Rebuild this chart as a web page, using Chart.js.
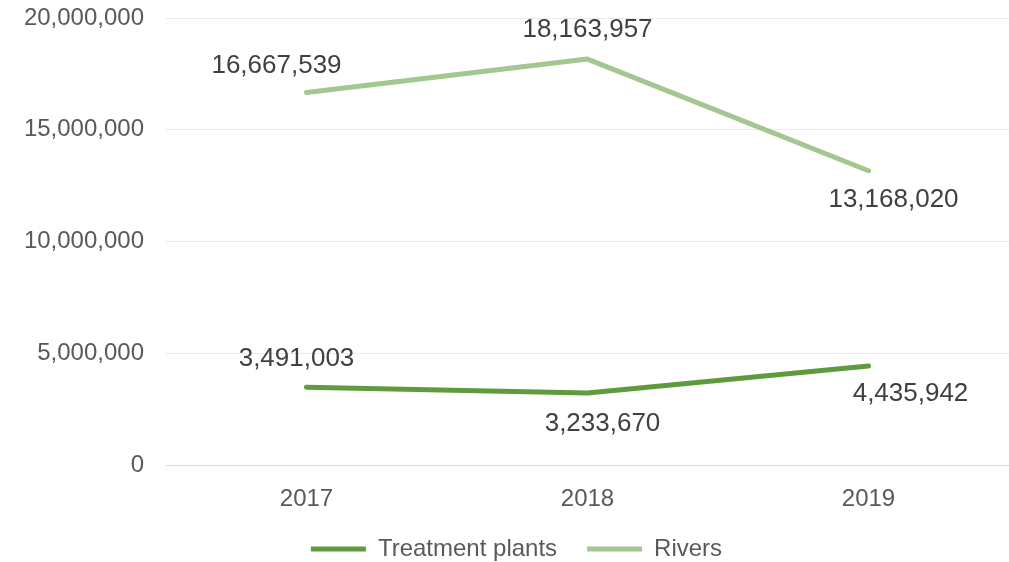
<!DOCTYPE html>
<html>
<head>
<meta charset="utf-8">
<script src="https://cdn.jsdelivr.net/npm/chart.js@4/dist/chart.umd.min.js"></script>
<style>
html,body{margin:0;padding:0;background:#fff;}
#wrap{width:1009px;height:562px;}
</style>
</head>
<body>
<div id="wrap"><canvas id="c" width="1009" height="562"></canvas></div>
<script>
const categories = ['2017', '2018', '2019'];
const treatmentPlants = [3491003, 3233670, 4435942];
const rivers = [16667539, 18163957, 13168020];
const yTicks = [0, 5000000, 10000000, 15000000, 20000000];
const seriesNames = ['Treatment plants', 'Rivers'];

// label offsets relative to each point (pixels)
const labelOffsets = [
  [[-10, -28], [15, 31], [42, 28]],
  [[-30, -27], [0, -29], [25, 29]]
];

const FONT = '"Liberation Sans", Arial, sans-serif';
const fmt = v => v.toLocaleString('en-US');

const dataLabels = {
  id: 'dataLabels',
  afterDatasetsDraw(chart) {
    const ctx = chart.ctx;
    ctx.save();
    ctx.font = '26px ' + FONT;
    ctx.fillStyle = '#404040';
    ctx.textAlign = 'center';
    ctx.textBaseline = 'middle';
    chart.data.datasets.forEach((ds, i) => {
      const meta = chart.getDatasetMeta(i);
      meta.data.forEach((pt, j) => {
        const off = labelOffsets[i][j];
        ctx.fillText(fmt(ds.data[j]), pt.x + off[0], pt.y + off[1]);
      });
    });
    ctx.restore();
  }
};

new Chart(document.getElementById('c'), {
  type: 'line',
  data: {
    labels: categories,
    datasets: [
      {
        label: seriesNames[0],
        data: treatmentPlants,
        borderColor: '#5f9b3e',
        backgroundColor: '#5f9b3e',
        borderWidth: 5,
        borderCapStyle: 'round',
        borderJoinStyle: 'round',
        pointRadius: 0,
        tension: 0
      },
      {
        label: seriesNames[1],
        data: rivers,
        borderColor: '#a2c78f',
        backgroundColor: '#a2c78f',
        borderWidth: 5,
        borderCapStyle: 'round',
        borderJoinStyle: 'round',
        pointRadius: 0,
        tension: 0
      }
    ]
  },
  options: {
    responsive: false,
    animation: false,
    layout: { padding: { left: 24, right: 0, top: 18, bottom: -9 } },
    plugins: {
      tooltip: { enabled: false },
      legend: {
        position: 'bottom',
        labels: {
          usePointStyle: true,
          pointStyle: 'line',
          pointStyleWidth: 55,
          color: '#595959',
          font: { family: FONT, size: 24 },
          padding: 30
        }
      }
    },
    scales: {
      x: {
        offset: true,
        grid: { display: false, drawTicks: false },
        border: { display: true, color: '#d9d9d9', width: 1 },
        ticks: { color: '#595959', font: { family: FONT, size: 24 }, padding: 20 },
        afterFit: axis => { axis.height -= 27; axis.paddingLeft = 0; axis.paddingRight = 0; }
      },
      y: {
        min: 0,
        max: 20000000,
        afterBuildTicks: axis => { axis.ticks = yTicks.map(v => ({ value: v })); },
        grid: { color: '#ebebeb', lineWidth: 1, drawTicks: false },
        border: { display: false },
        ticks: {
          color: '#595959',
          font: { family: FONT, size: 24 },
          padding: 22,
          callback: v => fmt(v)
        },
        afterFit: axis => { axis.width = 142; axis.paddingTop = 0; axis.paddingBottom = 0; }
      }
    }
  },
  plugins: [dataLabels]
});
</script>
</body>
</html>
